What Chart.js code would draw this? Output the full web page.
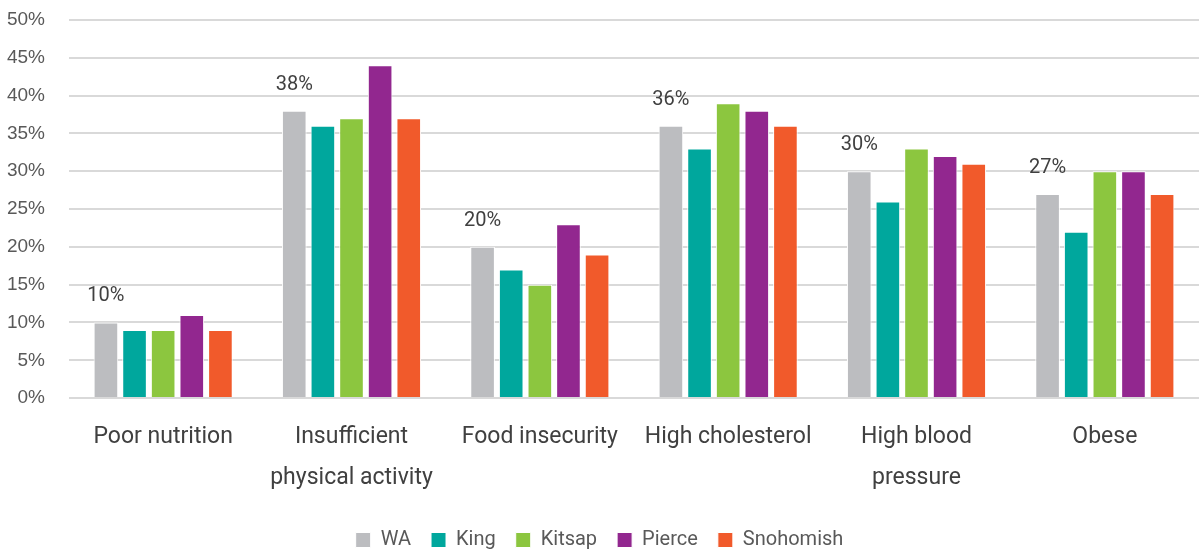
<!DOCTYPE html>
<html>
<head>
<meta charset="utf-8">
<script src="https://cdn.jsdelivr.net/npm/chart.js@4"></script>
<style>
  html, body { margin: 0; padding: 0; background: #fff; }
  #wrap { width: 1199px; height: 552px; }
</style>
</head>
<body>
<div id="wrap"><canvas id="myChart"></canvas></div>
<script>
var categories = [["Poor nutrition"], ["Insufficient", "physical activity"], ["Food insecurity"], ["High cholesterol"], ["High blood", "pressure"], ["Obese"]];
var seriesNames = ["WA", "King", "Kitsap", "Pierce", "Snohomish"];
var waValues = [10, 38, 20, 36, 30, 27];
var kingValues = [9, 36, 17, 33, 26, 22];
var kitsapValues = [9, 37, 15, 39, 33, 30];
var pierceValues = [11, 44, 23, 38, 32, 30];
var snohomishValues = [9, 37, 19, 36, 31, 27];
var barColors = ["#bcbdc0", "#00a79d", "#8cc63f", "#92278f", "#f15a2b"];

var narrow = "'Liberation Sans Narrow', 'Arial Narrow', Roboto, sans-serif";

// labels only on the WA bars
const waLabels = {
  id: "waLabels",
  afterDatasetsDraw(chart) {
    const ctx = chart.ctx;
    const meta = chart.getDatasetMeta(0);
    ctx.save();
    ctx.font = "20px " + narrow;
    ctx.fillStyle = "#404040";
    ctx.textAlign = "center";
    ctx.textBaseline = "bottom";
    meta.data.forEach(function (bar, i) {
      ctx.fillText(waValues[i] + "%", bar.x, bar.y - 16);
    });
    ctx.restore();
  }
};

var allValues = [waValues, kingValues, kitsapValues, pierceValues, snohomishValues];

new Chart("myChart", {
  type: "bar",
  data: {
    labels: categories,
    datasets: seriesNames.map(function (name, i) {
      return {
        label: name,
        data: allValues[i],
        backgroundColor: barColors[i],
        borderColor: "#ffffff",
        borderWidth: 1,
        categoryPercentage: 0.76,
        barPercentage: 0.86
      };
    })
  },
  options: {
    responsive: true,
    maintainAspectRatio: false,
    animation: false,
    layout: { padding: { top: 0, left: 0, right: 0, bottom: -8 } },
    scales: {
      x: {
        grid: { display: false },
        border: { display: false },
        ticks: { color: "#404040", font: { family: narrow, size: 23, lineHeight: 1.78 }, padding: 11, maxRotation: 0 },
        afterFit: function (s) { s.paddingLeft = 0; s.paddingRight = 0; }
      },
      y: {
        min: 0,
        max: 50,
        ticks: {
          stepSize: 5,
          color: "#595959",
          font: { family: "'Liberation Sans', Arial, sans-serif", size: 19 },
          padding: 24,
          callback: function (v) { return v + "%"; }
        },
        grid: { color: "#d9d9d9", lineWidth: 2, drawTicks: false },
        border: { display: false },
        afterFit: function (s) { s.width = 69; s.paddingTop = 20; s.paddingBottom = 0; }
      }
    },
    plugins: {
      legend: {
        position: "bottom",
        labels: {
          color: "#595959",
          font: { family: narrow, size: 20 },
          boxWidth: 15,
          boxHeight: 15,
          padding: 20
        }
      },
      tooltip: { enabled: false }
    }
  },
  plugins: [waLabels]
});
</script>
</body>
</html>
